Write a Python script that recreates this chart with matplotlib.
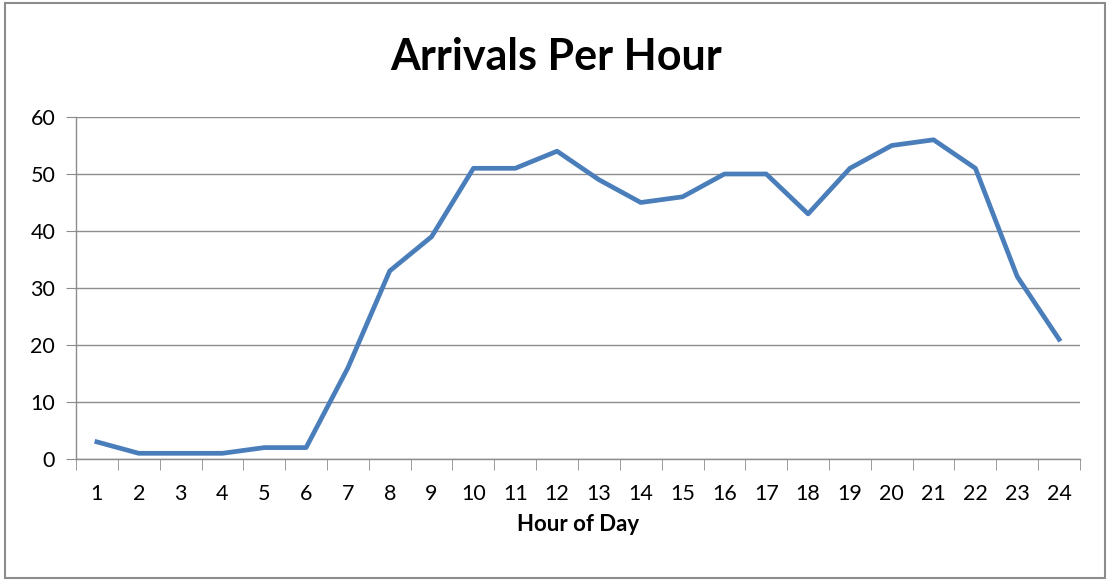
import matplotlib.pyplot as plt
from matplotlib.patches import Rectangle
import numpy as np

hours = list(range(1, 25))
arrivals = [3, 1, 1, 1, 2, 2, 16, 33, 39, 51, 51, 54,
            49, 45, 46, 50, 50, 43, 51, 55, 56, 51, 32, 21]

plt.rcParams['font.family'] = ['Lato', 'DejaVu Sans']

fig = plt.figure(figsize=(11.12, 5.84), dpi=100)
ax = fig.add_axes([76/1112, 1 - 459/584, (1080 - 76)/1112, (459 - 117)/584])

# outer chart border
fig.patches.append(Rectangle((5/1112, 6/584), 1100/1112, 575/584, transform=fig.transFigure,
                             fill=False, edgecolor='#8c8c8c', linewidth=1.5))

ax.plot(hours, arrivals, color='#4A7EBB', linewidth=3.4, solid_joinstyle='round')

ax.set_xlim(0.5, 24.5)
ax.set_ylim(0, 60)
ax.set_yticks(range(0, 61, 10))
ax.set_xticks(hours)
ax.set_xticks(np.arange(0.5, 25, 1), minor=True)
ax.grid(axis='y', color='#8c8c8c', linewidth=1)
ax.set_axisbelow(True)

for s in ['top', 'right']:
    ax.spines[s].set_visible(False)
for s in ['left', 'bottom']:
    ax.spines[s].set_color('#8c8c8c')
    ax.spines[s].set_linewidth(1)

ax.tick_params(axis='x', which='major', length=0, labelsize=15.5, pad=18)
ax.tick_params(axis='x', which='minor', length=8, color='#8c8c8c')
ax.tick_params(axis='y', length=7, color='#8c8c8c', labelsize=15.5, pad=8)

ax.set_xlabel('Hour of Day', fontsize=16, fontweight='bold', labelpad=7)
fig.text(0.5, 1 - 57/584, 'Arrivals Per Hour', ha='center', va='center',
         fontsize=31, fontweight='bold')

plt.savefig('out.png', dpi=100)
